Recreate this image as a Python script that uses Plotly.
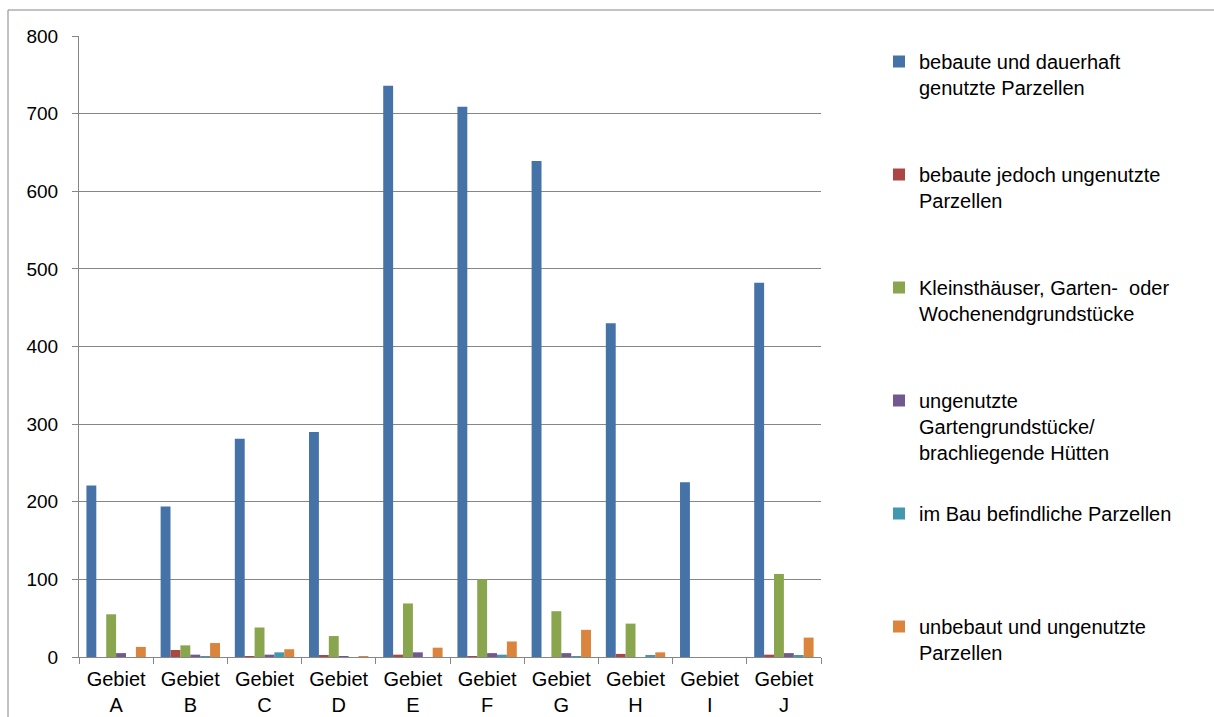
import plotly.graph_objects as go

# Gebiete (areas) on the x axis
gebiete = ["A", "B", "C", "D", "E", "F", "G", "H", "I", "J"]
kategorien = ["Gebiet<br>" + g for g in gebiete]

# Number of parcels per area and status
bebaut_genutzt = [221, 194, 281, 290, 736, 709, 639, 430, 225, 482]
bebaut_ungenutzt = [0, 9, 1, 2, 3, 1, 0, 4, 0, 3]
kleinsthaeuser = [55, 15, 38, 27, 69, 100, 59, 43, 0, 107]
ungenutzte_garten = [5, 3, 3, 1, 6, 5, 5, 0, 0, 5]
im_bau = [0, 1, 6, 0, 0, 3, 1, 2, 0, 2]
unbebaut = [13, 18, 10, 1, 12, 20, 35, 6, 0, 25]

serien = [
    ("bebaute und dauerhaft<br>genutzte Parzellen", bebaut_genutzt, "#4572A7"),
    ("bebaute jedoch ungenutzte<br>Parzellen", bebaut_ungenutzt, "#AA4643"),
    ("Kleinsthäuser, Garten-\u00a0 oder<br>Wochenendgrundstücke", kleinsthaeuser, "#89A54E"),
    ("ungenutzte<br>Gartengrundstücke/<br>brachliegende Hütten", ungenutzte_garten, "#71588F"),
    ("im Bau befindliche Parzellen", im_bau, "#4198AF"),
    ("unbebaut und ungenutzte<br>Parzellen", unbebaut, "#DB843D"),
]

FONT = "Liberation Sans, Arial, sans-serif"
GRID = "#868686"

fig = go.Figure()
legend_ids = ["legend", "legend2", "legend3", "legend4", "legend5", "legend6"]
for (name, werte, farbe), lid in zip(serien, legend_ids):
    fig.add_trace(go.Bar(
        x=kategorien, y=werte, name=name, marker_color=farbe,
        marker_line_width=0, legend=lid, showlegend=True,
    ))

# plot area in pixels: x 79..821, y 36..657
L, R, T, B = 79, 393, 36, 60
W_px, H_px = 1214 - L - R, 717 - T - B

legend_layout = {}
for i, lid in enumerate(legend_ids):
    top_px = 42 + 113 * i
    legend_layout[lid] = dict(
        x=(879 - L) / W_px, y=1 - (top_px - T) / H_px,
        xanchor="left", yanchor="top", valign="top",
        bgcolor="rgba(0,0,0,0)", borderwidth=0,
        font=dict(family=FONT, size=20, color="#000000"),
    )

fig.update_layout(
    width=1214, height=717,
    margin=dict(l=L, r=R, t=T, b=B, pad=0, autoexpand=False),
    paper_bgcolor="white", plot_bgcolor="white",
    barmode="group", bargap=0.2, bargroupgap=0,
    showlegend=True,
    font=dict(family=FONT, size=16, color="#000000"),
    **legend_layout,
)

fig.update_xaxes(
    type="category", showgrid=False, showline=True, linecolor=GRID, linewidth=1,
    ticks="outside", tickson="boundaries", ticklen=6, tickcolor=GRID,
    ticklabelstandoff=4, automargin=False,
    tickfont=dict(family=FONT, size=20, color="#000000"),
)
fig.update_yaxes(
    range=[0, 800], dtick=100, showgrid=True, gridcolor=GRID, gridwidth=1,
    showline=True, linecolor=GRID, linewidth=1, zeroline=False,
    ticks="outside", ticklen=6, tickcolor=GRID, ticklabelstandoff=10,
    automargin=False,
    tickfont=dict(family=FONT, size=19, color="#000000"),
)

# outer chart frame
fig.add_shape(
    type="rect", xref="paper", yref="paper",
    x0=(8 - L) / W_px, x1=(1230 - L) / W_px,
    y0=-(730 - (717 - B)) / H_px, y1=1 + (T - 10) / H_px,
    line=dict(color=GRID, width=1), fillcolor="rgba(0,0,0,0)", layer="below",
)

fig.write_html("out.html")
